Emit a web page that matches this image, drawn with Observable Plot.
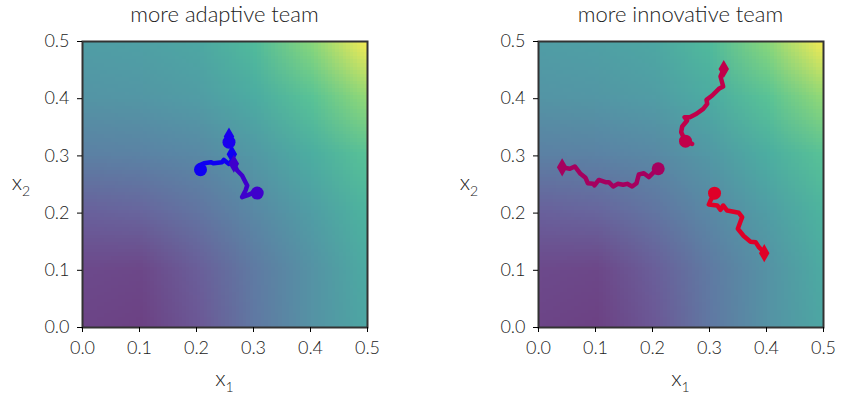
<!DOCTYPE html>
<html>
<head>
<meta charset="utf-8">
<script src="https://cdn.jsdelivr.net/npm/d3@7"></script>
<script src="https://cdn.jsdelivr.net/npm/@observablehq/plot@0.6"></script>
<style>
  body { margin: 0; background: #fff; }
  #wrap { display: flex; width: 844px; height: 395px; }
  svg text { font-family: Lato, "Open Sans", sans-serif; font-weight: 300; }
</style>
</head>
<body>
<div id="wrap"></div>
<script>
// ---- data ----
const ticks = [0.0, 0.1, 0.2, 0.3, 0.4, 0.5];
// surface sampled at x, y = 0, 0.1, ..., 0.5 ; rows from y = 0 (bottom) to y = 0.5 (top)
const gridRows = [
  [0.06, 0.05, 0.13, 0.27, 0.40, 0.50],
  [0.08, 0.07, 0.16, 0.28, 0.40, 0.53],
  [0.17, 0.19, 0.25, 0.35, 0.46, 0.58],
  [0.31, 0.32, 0.35, 0.43, 0.54, 0.65],
  [0.41, 0.42, 0.45, 0.53, 0.65, 0.80],
  [0.46, 0.47, 0.51, 0.61, 0.78, 1.00]
];

const titles = ["more adaptive team", "more innovative team"];

// adaptive team trajectories (first point = start circle, last = end diamond)
const adaptA_x = [0.207, 0.204, 0.213, 0.225, 0.230, 0.245, 0.248, 0.257, 0.263, 0.262];
const adaptA_y = [0.276, 0.283, 0.287, 0.289, 0.287, 0.289, 0.293, 0.286, 0.293, 0.303];
const adaptB_x = [0.257, 0.256, 0.257];
const adaptB_y = [0.324, 0.329, 0.334];
const adaptC_x = [0.3065, 0.298, 0.289, 0.280, 0.286, 0.289, 0.286, 0.280, 0.2714, 0.2655];
const adaptC_y = [0.235, 0.235, 0.231, 0.228, 0.2395, 0.2483, 0.254, 0.2657, 0.2745, 0.2862];

// innovative team trajectories
const innovA_x = [0.210, 0.2023, 0.1935, 0.1848, 0.176, 0.172, 0.1643, 0.1556, 0.1485, 0.139, 0.131, 0.1234, 0.1175, 0.1058, 0.0982, 0.096, 0.0865, 0.0825, 0.0737, 0.0637, 0.055, 0.0415];
const innovA_y = [0.2775, 0.2715, 0.263, 0.2698, 0.2675, 0.2523, 0.2465, 0.2512, 0.2495, 0.2512, 0.2465, 0.254, 0.254, 0.258, 0.2483, 0.2512, 0.2523, 0.2617, 0.2687, 0.2815, 0.2775, 0.280];
const innovB_x = [0.2579, 0.2696, 0.2579, 0.255, 0.2503, 0.2521, 0.2608, 0.2561, 0.2655, 0.2772, 0.289, 0.296, 0.2947, 0.3047, 0.3164, 0.324, 0.3193, 0.325];
const innovB_y = [0.3257, 0.321, 0.3257, 0.3316, 0.3414, 0.3514, 0.3619, 0.3677, 0.3677, 0.3736, 0.3823, 0.391, 0.398, 0.4056, 0.4173, 0.4213, 0.4388, 0.452];
const innovC_x = [0.3088, 0.3018, 0.2988, 0.3135, 0.3193, 0.324, 0.331, 0.3514, 0.3573, 0.355, 0.3497, 0.360, 0.372, 0.381, 0.387, 0.392, 0.396];
const innovC_y = [0.2348, 0.222, 0.215, 0.2133, 0.2058, 0.2133, 0.2045, 0.2005, 0.193, 0.187, 0.1726, 0.160, 0.150, 0.149, 0.140, 0.135, 0.130];

const adaptColors = ["#0f00f2", "#1a00ee", "#3f00cc"];
const innovColors = ["#a6005f", "#c1004a", "#df0028"];

// ---- build tables ----
const gridValues = gridRows.flat();

function traj(xs, ys, id) { return xs.map((x, i) => ({x, y: ys[i], id})); }

const panels = [
  {title: titles[0], trajs: [traj(adaptA_x, adaptA_y, 0), traj(adaptB_x, adaptB_y, 1), traj(adaptC_x, adaptC_y, 2)], colors: adaptColors, ml: 82, mr: 55, ylx: 21},
  {title: titles[1], trajs: [traj(innovA_x, innovA_y, 0), traj(innovB_x, innovB_y, 1), traj(innovC_x, innovC_y, 2)], colors: innovColors, ml: 116, mr: 21, ylx: 47}
];

const wrap = document.getElementById("wrap");
const fmt = d3.format(".1f");

panels.forEach(p => {
  const marks = [
    Plot.raster(gridValues, {
      width: 6, height: 6,
      x1: -0.05, x2: 0.55, y1: -0.05, y2: 0.55,
      fill: d => d, fillOpacity: 0.8, imageRendering: "auto", clip: true
    }),
  ];
  p.trajs.forEach((t, k) => {
    marks.push(Plot.line(t, {x: "x", y: "y", stroke: p.colors[k], strokeWidth: 4.5, strokeLinejoin: "round", strokeLinecap: "round"}));
    marks.push(Plot.dot([t[0]], {x: "x", y: "y", r: 6.5, fill: p.colors[k], stroke: "none"}));
    marks.push(Plot.dot([t[t.length - 1]], {x: "x", y: "y", r: 5.5, symbol: "diamond", fill: p.colors[k], stroke: "none"}));
  });
  marks.push(Plot.frame({stroke: "#333", strokeWidth: 2}));
  marks.push(Plot.axisX({ticks, tickSize: 5, tickFormat: fmt, label: null, fontSize: 18, tickPadding: 9, stroke: "#000", color: "#222"}));
  marks.push(Plot.axisY({ticks, tickSize: 5, tickFormat: fmt, label: null, fontSize: 18, tickPadding: 8, stroke: "#000", color: "#222"}));

  const svg = Plot.plot({
    width: 422, height: 395,
    marginLeft: p.ml, marginRight: p.mr, marginTop: 41, marginBottom: 68,
    x: {domain: [0, 0.5]},
    y: {domain: [0, 0.5]},
    color: {type: "linear", scheme: "viridis", domain: [0, 1]},
    style: {fontFamily: "Lato, 'Open Sans', sans-serif", background: "#fff", overflow: "visible"},
    marks
  });
  const s = d3.select(svg);
  const cx = p.ml + (422 - p.ml - p.mr) / 2;
  s.append("text").attr("x", cx).attr("y", 22).attr("text-anchor", "middle")
    .attr("font-size", 22).attr("fill", "#222").text(p.title);
  const xl = s.append("text").attr("x", cx).attr("y", 386).attr("text-anchor", "middle")
    .attr("font-size", 22).attr("fill", "#222");
  xl.append("tspan").text("x");
  xl.append("tspan").attr("dy", 6).attr("font-size", 14).text("1");
  const yl = s.append("text").attr("x", p.ylx).attr("y", 190).attr("text-anchor", "middle")
    .attr("font-size", 22).attr("fill", "#222");
  yl.append("tspan").text("x");
  yl.append("tspan").attr("dy", 6).attr("font-size", 14).text("2");
  wrap.appendChild(svg);
});
</script>
</body>
</html>
